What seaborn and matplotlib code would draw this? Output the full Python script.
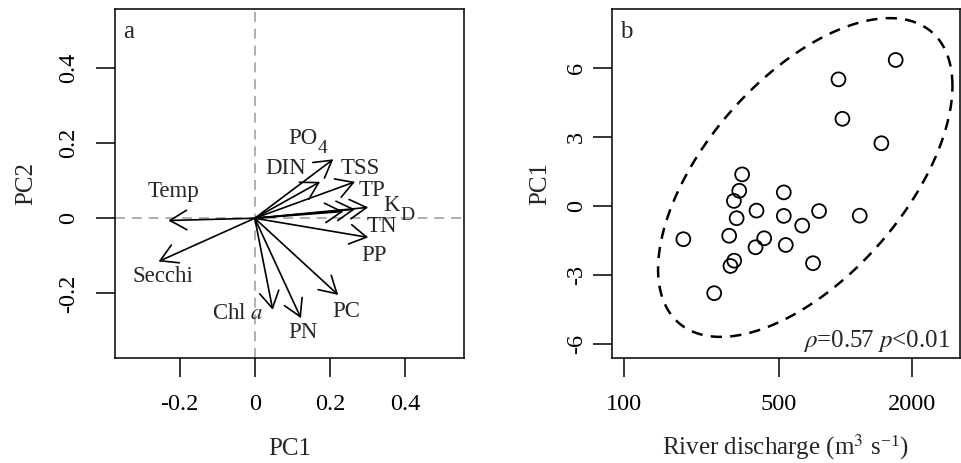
import numpy as np
import matplotlib
matplotlib.use("Agg")
import matplotlib.pyplot as plt
import seaborn as sns

# a: PCA loadings of the water quality variables
variables = ["Temp", "Secchi", "Chl $a$", "PN", "PC", "PP", "TN",
             "K", "TP", "TSS", "DIN", "PO"]
subscripts = ["", "", "", "", "", "", "", "D", "", "", "", "4"]
pc1_load = [-0.230, -0.256, 0.048, 0.123, 0.222, 0.302, 0.267, 0.302, 0.267, 0.236, 0.174, 0.209]
pc2_load = [-0.006, -0.115, -0.244, -0.266, -0.204, -0.051, 0.024, 0.029, 0.097, 0.018, 0.097, 0.157]
# where each variable name is written
lab_x = [-0.217, -0.245, -0.045, 0.129, 0.243, 0.318, 0.338, 0.364, 0.312, 0.280, 0.081, 0.128]
lab_y = [0.071, -0.155, -0.253, -0.304, -0.248, -0.098, -0.022, 0.033, 0.073, 0.133, 0.133, 0.211]
load_ticks = [-0.2, 0, 0.2, 0.4]
load_ticklabels = ["-0.2", "0", "0.2", "0.4"]

# b: river discharge vs PC1 scores
discharge = [1685, 929, 968, 1452, 341, 331, 313, 526, 396, 759, 1159, 526,
             322, 637, 185, 298, 429, 392, 537, 713, 314, 302, 255]
pc1_score = [6.33, 5.49, 3.78, 2.72, 1.37, 0.66, 0.22, 0.59, -0.20, -0.22, -0.42, -0.43,
             -0.53, -0.85, -1.44, -1.29, -1.40, -1.79, -1.69, -2.48, -2.37, -2.60, -3.78]
q_ticks = [100, 500, 2000]
score_ticks = [-6, -3, 0, 3, 6]
# ellipse (log10 discharge, PC1): centre, half ranges, phase shift
ell_center = (2.818, 1.235)
ell_half = (0.665, 6.91)
ell_phase = 0.958

sns.set_theme(style="ticks")
plt.rcParams["font.family"] = ["Liberation Serif", "DejaVu Serif"]
plt.rcParams["mathtext.fontset"] = "stix"
plt.rcParams["axes.unicode_minus"] = False

fig = plt.figure(figsize=(9.61, 4.63), dpi=100)
ax1 = fig.add_axes([115 / 961, 105 / 463, 349 / 961, 349 / 463])
ax2 = fig.add_axes([611.7 / 961, 105 / 463, 348 / 961, 349 / 463])

for ax in (ax1, ax2):
    for s in ax.spines.values():
        s.set_linewidth(1.1)
        s.set_color("black")
    ax.tick_params(length=13.7, width=1.1, color="black", labelsize=17.5, labelcolor="black")
    ax.set_facecolor("white")

# ---- panel a
ax1.axhline(0, color="#9a9a9a", lw=1.1, dashes=(6.5, 4.5), zorder=1)
ax1.axvline(0, color="#9a9a9a", lw=1.1, dashes=(6.5, 4.5), zorder=1)
for x, y in zip(pc1_load, pc2_load):
    ax1.annotate("", xy=(x, y), xytext=(0, 0),
                 arrowprops=dict(arrowstyle="->,head_length=1.2,head_width=0.7",
                                 mutation_scale=10, lw=1.2, color="black",
                                 shrinkA=0, shrinkB=0), zorder=3)
for name, sub, x, y in zip(variables, subscripts, lab_x, lab_y):
    txt = ax1.text(x, y, name, fontsize=16.5, ha="center", va="center")
    if sub:
        # R style subscript: a bit smaller and dropped below the baseline
        ax1.annotate(sub, xy=(1, 0), xycoords=txt, xytext=(0.3, -2.4),
                     textcoords="offset points", fontsize=14, ha="left", va="baseline")

ax1.set_xlim(-0.372, 0.557)
ax1.set_ylim(-0.372, 0.557)
ax1.set_xticks(load_ticks, load_ticklabels)
ax1.set_yticks(load_ticks, load_ticklabels, rotation=90, va="center")
ax1.tick_params(axis="x", pad=12.5)
ax1.tick_params(axis="y", pad=12)
ax1.set_xlabel("PC1", fontsize=18, va="baseline")
ax1.set_ylabel("PC2", fontsize=18)
ax1.xaxis.set_label_coords(0.5, -0.277)
ax1.yaxis.set_label_coords(-0.222, 0.5)
ax1.text(0.023, 0.918, "a", transform=ax1.transAxes, fontsize=18, va="baseline")

# ---- panel b
t = np.linspace(0, 2 * np.pi, 300)
ell_x = 10 ** (ell_center[0] + ell_half[0] * np.cos(t))
ell_y = ell_center[1] + ell_half[1] * np.cos(t - ell_phase)
ax2.plot(ell_x, ell_y, color="black", lw=1.8, dashes=(4.5, 3.3), zorder=2)
sns.scatterplot(x=discharge, y=pc1_score, ax=ax2, s=100, fc="none", ec="black",
                linewidth=1.3, zorder=3)

ax2.set_xscale("log")
ax2.set_xlim(87.8, 3279)
ax2.set_ylim(-6.59, 8.54)
ax2.set_xticks(q_ticks, [str(q) for q in q_ticks])
ax2.xaxis.set_minor_locator(matplotlib.ticker.NullLocator())
ax2.set_yticks(score_ticks, [str(v) for v in score_ticks], rotation=90, va="center")
ax2.tick_params(axis="x", pad=12.5)
ax2.tick_params(axis="y", pad=4.3)
ax2.set_xlabel("River discharge (m$^3$ s$^{\\mathregular{-1}}$)", fontsize=18, va="baseline")
ax2.set_ylabel("PC1", fontsize=18)
ax2.xaxis.set_label_coords(0.5, -0.277)
ax2.yaxis.set_label_coords(-0.173, 0.5)
ax2.text(0.024, 0.916, "b", transform=ax2.transAxes, fontsize=18, va="baseline")
ax2.text(0.972, 0.032, r"$\rho$=0.57 $p$<0.01", transform=ax2.transAxes,
         fontsize=18, ha="right", va="baseline")

fig.savefig("out.png", dpi=100)
